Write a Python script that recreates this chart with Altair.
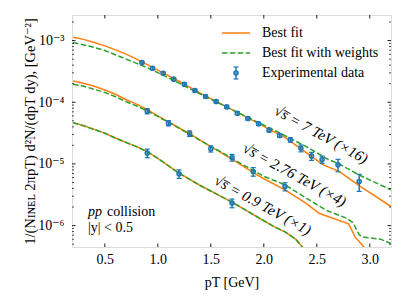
import altair as alt
import pandas as pd

# ---------------- data ----------------
# Best fit curves (orange)
x7_best = [0.2, 0.3, 0.4, 0.5, 0.6, 0.7, 0.8, 0.9, 1.0, 1.2, 1.4, 1.6, 1.8, 2.0, 2.2, 2.36, 2.56, 2.71, 2.91, 3.2]
y7_best = [1.135e-3, 1.047e-3, 9.33e-4, 8.22e-4, 7.08e-4, 6.03e-4, 5.01e-4, 4.07e-4, 3.31e-4, 2.19e-4,
           1.41e-4, 9.33e-5, 6.17e-5, 4.07e-5, 2.69e-5, 1.70e-5, 9.66e-6, 7.59e-6, 4.31e-6, 2.04e-6]
x276_best = [0.2, 0.3, 0.4, 0.5, 0.6, 0.7, 0.8, 0.9, 1.0, 1.1, 1.3, 1.5, 1.7, 1.9, 2.0, 2.2, 2.4, 2.52, 2.8, 2.86, 2.94, 3.05, 3.2]
y276_best = [2.22e-4, 2.04e-4, 1.82e-4, 1.585e-4, 1.35e-4, 1.10e-4, 9.33e-5, 7.59e-5, 6.03e-5, 4.79e-5,
             3.09e-5, 1.91e-5, 1.20e-5, 7.24e-6, 5.75e-6, 3.80e-6, 2.29e-6, 1.585e-6, 1.07e-6, 6.61e-7,
             4.57e-7, 2.82e-7, 1.585e-7]
x09_best = [0.2, 0.3, 0.4, 0.5, 0.6, 0.7, 0.8, 0.9, 1.0, 1.2, 1.4, 1.6, 1.7, 1.8, 1.9, 2.0, 2.1, 2.2, 2.3, 2.36, 2.45]
y09_best = [4.68e-5, 4.17e-5, 3.63e-5, 3.16e-5, 2.63e-5, 2.24e-5, 1.91e-5, 1.585e-5, 1.23e-5, 7.08e-6,
            4.47e-6, 2.95e-6, 2.40e-6, 1.91e-6, 1.51e-6, 1.20e-6, 9.55e-7, 7.94e-7, 6.03e-7, 4.57e-7, 3.16e-7]

# Best fit with weights (green dashed)
x7_w = [0.2, 0.3, 0.4, 0.5, 0.6, 0.7, 0.8, 0.9, 1.0, 1.2, 1.4, 1.6, 1.8, 2.0, 2.2, 2.4, 2.6, 2.7, 2.9, 3.2]
y7_w = [9.29e-4, 8.51e-4, 7.76e-4, 6.92e-4, 5.89e-4, 5.01e-4, 4.27e-4, 3.63e-4, 3.02e-4, 2.04e-4,
        1.36e-4, 9.23e-5, 6.24e-5, 4.27e-5, 2.88e-5, 1.91e-5, 1.20e-5, 1.02e-5, 6.61e-6, 3.80e-6]
x276_w = [0.2, 0.3, 0.4, 0.5, 0.6, 0.7, 0.8, 0.9, 1.0, 1.2, 1.4, 1.6, 1.8, 2.0, 2.2, 2.5, 2.6, 2.78, 2.84, 2.9, 2.95, 3.1, 3.2]
y276_w = [1.96e-4, 1.82e-4, 1.62e-4, 1.445e-4, 1.23e-4, 1.02e-4, 8.71e-5, 7.24e-5, 5.89e-5, 3.80e-5,
          2.40e-5, 1.55e-5, 9.77e-6, 6.31e-6, 4.57e-6, 2.19e-6, 1.74e-6, 1.32e-6, 1.12e-6, 7.08e-7,
          6.46e-7, 6.03e-7, 5.13e-7]
x09_w = [0.2, 0.3, 0.4, 0.5, 0.6, 0.7, 0.8, 0.9, 1.0, 1.2, 1.4, 1.6, 1.7, 1.8, 1.9, 2.0, 2.1, 2.2, 2.3, 2.36, 2.45]
y09_w = [4.66e-5, 4.15e-5, 3.62e-5, 3.15e-5, 2.62e-5, 2.23e-5, 1.90e-5, 1.58e-5, 1.23e-5, 7.08e-6,
         4.47e-6, 2.95e-6, 2.40e-6, 1.91e-6, 1.51e-6, 1.20e-6, 9.55e-7, 7.94e-7, 6.03e-7, 4.57e-7, 3.16e-7]

# Experimental data
x7_exp = [0.85, 0.95, 1.05, 1.15, 1.25, 1.35, 1.45, 1.55, 1.65, 1.75, 1.85, 1.95, 2.05, 2.15, 2.25,
          2.35, 2.45, 2.55, 2.7, 2.9]
y7_exp = [4.40e-4, 3.57e-4, 2.96e-4, 2.37e-4, 1.96e-4, 1.55e-4, 1.24e-4, 1.03e-4, 8.41e-5, 6.65e-5,
          5.44e-5, 4.47e-5, 3.53e-5, 2.89e-5, 2.46e-5, 1.80e-5, 1.34e-5, 1.18e-5, 9.66e-6, 5.19e-6]
e7_exp = [2.2e-5, 1.8e-5, 1.5e-5, 1.2e-5, 1.0e-5, 8.0e-6, 6.5e-6, 5.5e-6, 4.5e-6, 3.6e-6,
          3.2e-6, 2.7e-6, 2.3e-6, 2.0e-6, 2.0e-6, 2.3e-6, 2.0e-6, 1.6e-6, 2.2e-6, 1.6e-6]
x276_exp = [0.9, 1.1, 1.3, 1.5, 1.7, 1.9, 2.2]
y276_exp = [7.18e-5, 4.58e-5, 3.11e-5, 1.76e-5, 1.27e-5, 7.53e-6, 4.31e-6]
e276_exp = [7.0e-6, 4.5e-6, 3.2e-6, 2.0e-6, 1.6e-6, 1.2e-6, 6.5e-7]
x09_exp = [0.9, 1.2, 1.7]
y09_exp = [1.50e-5, 6.92e-6, 2.32e-6]
e09_exp = [2.4e-6, 1.1e-6, 3.7e-7]

# annotations
ann_text = ["√s̅ = 7 TeV (×16)", "√s̅ = 2.76 TeV (×4)", "√s̅ = 0.9 TeV (×1)"]
ann_x = [2.54, 2.29, 1.99]
ann_y = [3.0e-5, 6.7e-6, 2.15e-6]

legend_labels = ["Best fit", "Best fit with weights", "Experimental data"]

x_major = [0.5, 1.0, 1.5, 2.0, 2.5, 3.0]
y_major = [1e-6, 1e-5, 1e-4, 1e-3]
y_minor = [5e-7, 6e-7, 7e-7, 8e-7, 9e-7,
           2e-6, 3e-6, 4e-6, 5e-6, 6e-6, 7e-6, 8e-6, 9e-6,
           2e-5, 3e-5, 4e-5, 5e-5, 6e-5, 7e-5, 8e-5, 9e-5,
           2e-4, 3e-4, 4e-4, 5e-4, 6e-4, 7e-4, 8e-4, 9e-4,
           2e-3]

# ---------------- build tables ----------------
W, H = 319, 232
ORANGE, GREEN, BLUE = "#ff7f0e", "#2ca02c", "#1f77b4"
FONT = "Liberation Serif, DejaVu Serif, serif"
FS = 14

def curves(sets):
    rows = []
    for name, xs_, ys_ in sets:
        rows += [{"s": name, "x": a, "y": b} for a, b in zip(xs_, ys_)]
    return pd.DataFrame(rows)

best = curves([("7", x7_best, y7_best), ("2.76", x276_best, y276_best), ("0.9", x09_best, y09_best)])
wgt = curves([("7", x7_w, y7_w), ("2.76", x276_w, y276_w), ("0.9", x09_w, y09_w)])

exp_rows = []
for xs_, ys_, es in [(x7_exp, y7_exp, e7_exp), (x276_exp, y276_exp, e276_exp), (x09_exp, y09_exp, e09_exp)]:
    for a, b, e in zip(xs_, ys_, es):
        exp_rows.append({"x": a, "y": b, "lo": b - e, "hi": b + e})
exp = pd.DataFrame(exp_rows)

xs = alt.Scale(domain=[0.19, 3.2], nice=False, zero=False)
ys = alt.Scale(type="log", domain=[4.5e-7, 2.6e-3], nice=False)

label_expr = ("datum.value > 5e-4 ? '10⁻³' : datum.value > 5e-5 ? '10⁻⁴' : "
              "datum.value > 5e-6 ? '10⁻⁵' : '10⁻⁶'")

XT = "pT [GeV]"
YT = "1/(Nɪɴᴇʟ 2πpT) d²N/(dpT dy), [GeV⁻²]"
AX = alt.Axis(values=x_major, format=".1f", ticks=False, domain=False, grid=False,
              labelPadding=5, titlePadding=9, labelFontSize=FS, titleFontSize=FS,
              labelFont=FONT, titleFont=FONT,
              labelColor="black", titleColor="black", titleFontWeight="normal")
AY = alt.Axis(values=y_major, labelExpr=label_expr, ticks=False, domain=False, grid=False,
              labelPadding=8, titlePadding=0, labelFontSize=FS, titleFontSize=14.5,
              labelFont=FONT, titleFont=FONT,
              labelColor="black", titleColor="black", titleFontWeight="normal")


def X(f="x"):
    return alt.X(f + ":Q", scale=xs, axis=AX, title=XT)


def Y(f="y"):
    return alt.Y(f + ":Q", scale=ys, axis=AY, title=YT)


orange = alt.Chart(best).mark_line(color=ORANGE, strokeWidth=1.5, clip=True).encode(
    x=X(), y=Y(), detail="s:N")
green = alt.Chart(wgt).mark_line(color=GREEN, strokeWidth=1.5, strokeDash=[5.5, 2.4], clip=True).encode(
    x=X(), y=Y(), detail="s:N")

err = alt.Chart(exp).mark_rule(color=BLUE, strokeWidth=1.5).encode(x=X(), y=Y("lo"), y2="hi:Q")
cap_lo = alt.Chart(exp).mark_rule(color=BLUE, strokeWidth=1.2, xOffset=-2.5, x2Offset=2.5).encode(
    x=X(), x2="x:Q", y=Y("lo"))
cap_hi = alt.Chart(exp).mark_rule(color=BLUE, strokeWidth=1.2, xOffset=-2.5, x2Offset=2.5).encode(
    x=X(), x2="x:Q", y=Y("hi"))
pts = alt.Chart(exp).mark_point(color=BLUE, filled=False, size=16, strokeWidth=1.6, opacity=1).encode(
    x=X(), y=Y())

ann = alt.Chart(pd.DataFrame({"t": ann_text, "x": ann_x, "y": ann_y})).mark_text(
    font=FONT, fontSize=15, fontStyle="italic", angle=29, align="center", baseline="middle",
    color="black").encode(x=X(), y=Y(), text="t:N")

# tick marks (inward, on all four sides)
xt = pd.DataFrame({"x": x_major})
ytM = pd.DataFrame({"y": y_major})
ytm = pd.DataFrame({"y": y_minor})
tk = dict(color="black", strokeWidth=0.9)
ticks = [
    alt.Chart(xt).mark_rule(**tk).encode(x=X(), y=alt.value(H), y2=alt.value(H - 3.5)),
    alt.Chart(xt).mark_rule(**tk).encode(x=X(), y=alt.value(0), y2=alt.value(3.5)),
    alt.Chart(ytM).mark_rule(**tk).encode(y=Y(), x=alt.value(0), x2=alt.value(3.5)),
    alt.Chart(ytM).mark_rule(**tk).encode(y=Y(), x=alt.value(W), x2=alt.value(W - 3.5)),
    alt.Chart(ytm).mark_rule(color="black", strokeWidth=0.7).encode(y=Y(), x=alt.value(0), x2=alt.value(2)),
    alt.Chart(ytm).mark_rule(color="black", strokeWidth=0.7).encode(y=Y(), x=alt.value(W), x2=alt.value(W - 2)),
]

# legend (upper right)
one = pd.DataFrame({"a": [0]})
leg_rows = pd.DataFrame({"t": legend_labels, "py": [18, 38, 58]})
leg_txt = alt.Chart(leg_rows).mark_text(
    font=FONT, fontSize=FS, align="left", baseline="middle", color="black").encode(
    x=alt.value(190), y=alt.Y("py:Q", scale=None), text="t:N")
leg = [
    alt.Chart(one).mark_rule(color=ORANGE, strokeWidth=1.5).encode(
        x=alt.value(150), x2=alt.value(178), y=alt.value(18)),
    alt.Chart(one).mark_rule(color=GREEN, strokeWidth=1.5, strokeDash=[5.5, 2.4]).encode(
        x=alt.value(150), x2=alt.value(178), y=alt.value(38)),
    alt.Chart(one).mark_rule(color=BLUE, strokeWidth=1.5).encode(
        x=alt.value(164), y=alt.value(52), y2=alt.value(64)),
    alt.Chart(one).mark_rule(color=BLUE, strokeWidth=1.2).encode(
        x=alt.value(161.5), x2=alt.value(166.5), y=alt.value(52)),
    alt.Chart(one).mark_rule(color=BLUE, strokeWidth=1.2).encode(
        x=alt.value(161.5), x2=alt.value(166.5), y=alt.value(64)),
    alt.Chart(one).mark_point(color=BLUE, filled=False, size=16, strokeWidth=1.6, opacity=1).encode(
        x=alt.value(164), y=alt.value(58)),
    leg_txt,
]

pp = [
    alt.Chart(one).mark_text(font=FONT, fontSize=FS, fontStyle="italic", align="left",
                             baseline="middle", color="black", text="pp").encode(
        x=alt.value(16), y=alt.value(197)),
    alt.Chart(one).mark_text(font=FONT, fontSize=FS, align="left", baseline="middle",
                             color="black", text="collision").encode(
        x=alt.value(35), y=alt.value(197)),
    alt.Chart(one).mark_text(font=FONT, fontSize=FS, align="left", baseline="middle",
                             color="black", text="|y| < 0.5").encode(
        x=alt.value(16), y=alt.value(213)),
]

chart = alt.layer(orange, green, err, cap_lo, cap_hi, pts, ann, *ticks, *leg, *pp).properties(
    width=W, height=H,
    padding={"left": 64, "top": 7, "right": 8, "bottom": 50},
    autosize=alt.AutoSizeParams(type="none"),
).configure_view(stroke="black", strokeWidth=1).configure(font=FONT, background="white")

chart.save("out.html", embed_options={"renderer": "svg", "actions": False})
